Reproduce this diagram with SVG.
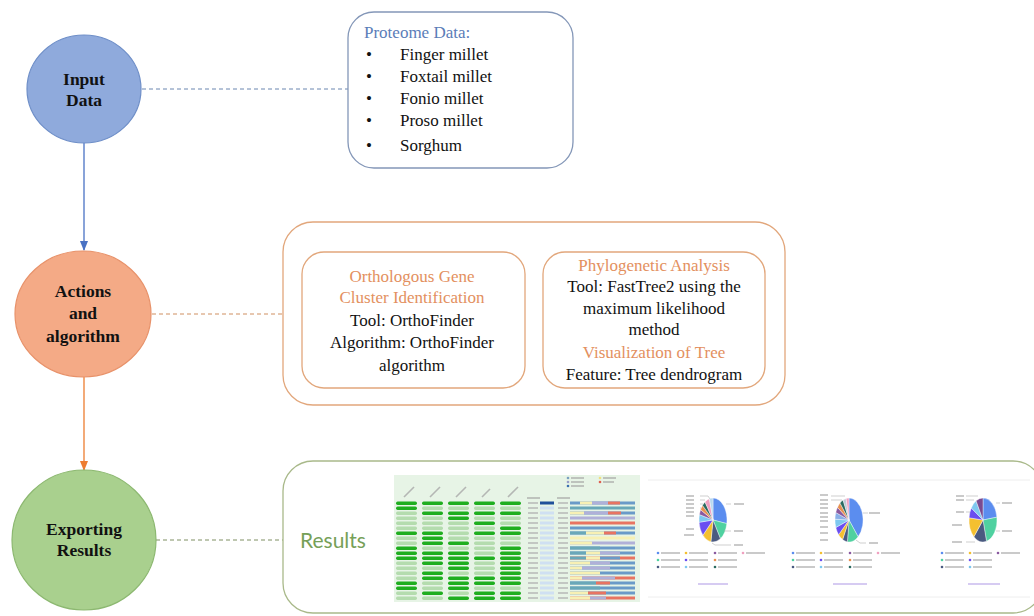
<svg xmlns="http://www.w3.org/2000/svg" width="1034" height="616" viewBox="0 0 1034 616">
<defs>
<style>
.node-t{font-family:"Liberation Serif",serif;font-weight:bold;font-size:17.5px;fill:#111;text-anchor:middle}
.body{font-family:"Liberation Serif",serif;font-size:17px;fill:#111}
.ctr{text-anchor:middle}
.blue-t{fill:#5b7db8}
.org-t{fill:#e39060}
.dk{fill:#1fae1f}
.lt{fill:#b4dcae}
.g{stroke:#a8a8a8;stroke-width:1.6;opacity:.8}
.lead{stroke:#b0b0b0;stroke-width:.6;fill:none}
</style>
<marker id="arrB" viewBox="0 0 10 10" refX="9" refY="5" markerWidth="8" markerHeight="8" orient="auto"><path d="M0,1 L10,5 L0,9 Z" fill="#4a72c4"/></marker>
<marker id="arrO" viewBox="0 0 10 10" refX="9" refY="5" markerWidth="8" markerHeight="8" orient="auto"><path d="M0,1 L10,5 L0,9 Z" fill="#ed7d31"/></marker>
</defs>
<rect width="1034" height="616" fill="#ffffff"/>

<g id="connectors">
<line x1="84" y1="143" x2="84" y2="250" stroke="#4a72c4" stroke-width="1.3" marker-end="url(#arrB)"/>
<line x1="84" y1="377" x2="84" y2="470" stroke="#ed7d31" stroke-width="1.3" marker-end="url(#arrO)"/>
<line x1="142" y1="89" x2="348" y2="89" stroke="#6b86b0" stroke-width="1" stroke-dasharray="4 3"/>
<line x1="152" y1="314" x2="283" y2="314" stroke="#cf8f60" stroke-width="1" stroke-dasharray="4 3"/>
<line x1="156" y1="540" x2="283" y2="540" stroke="#7f8f62" stroke-width="1" stroke-dasharray="4 3"/>
</g>

<g id="input-data">
<ellipse cx="84" cy="89" rx="57" ry="54" fill="#8faadc" stroke="#6f8fc8" stroke-width="1.2"/>
<text class="node-t" x="84" y="85">Input</text>
<text class="node-t" x="84" y="106">Data</text>
</g>

<g id="proteome-data">
<rect x="348" y="12" width="225" height="156" rx="26" fill="#fff" stroke="#8497b8" stroke-width="1.3"/>
<text class="body blue-t" x="364" y="38">Proteome Data:</text>
<g class="body">
<text x="366" y="60">•</text><text x="400" y="60">Finger millet</text>
<text x="366" y="82">•</text><text x="400" y="82">Foxtail millet</text>
<text x="366" y="104">•</text><text x="400" y="104">Fonio millet</text>
<text x="366" y="126">•</text><text x="400" y="126">Proso millet</text>
<text x="366" y="151">•</text><text x="400" y="151">Sorghum</text>
</g>
</g>

<g id="actions">
<ellipse cx="83" cy="314" rx="68" ry="63" fill="#f4aa86" stroke="#e8926a" stroke-width="1.2"/>
<text class="node-t" x="83" y="297" font-size="18">Actions</text>
<text class="node-t" x="83" y="319" font-size="18">and</text>
<text class="node-t" x="83" y="342" font-size="18">algorithm</text>
</g>

<g id="methods">
<rect x="283" y="222" width="502" height="183" rx="30" fill="#fff" stroke="#e2a77c" stroke-width="1.3"/>
</g>

<g id="orthologous">
<rect x="302" y="252" width="223" height="136" rx="22" fill="#fff" stroke="#e2a77c" stroke-width="1.3"/>
<text class="body ctr org-t" x="412" y="282">Orthologous Gene</text>
<text class="body ctr org-t" x="412" y="303">Cluster Identification</text>
<text class="body ctr" x="412" y="326">Tool: OrthoFinder</text>
<text class="body ctr" x="412" y="348">Algorithm:  OrthoFinder</text>
<text class="body ctr" x="412" y="371">algorithm</text>
</g>

<g id="phylogenetic">
<rect x="543" y="252" width="222" height="136" rx="22" fill="#fff" stroke="#e2a77c" stroke-width="1.3"/>
<text class="body ctr org-t" x="654" y="271">Phylogenetic Analysis</text>
<text class="body ctr" x="654" y="292">Tool: FastTree2 using  the</text>
<text class="body ctr" x="654" y="314">maximum  likelihood</text>
<text class="body ctr" x="654" y="335">method</text>
<text class="body ctr org-t" x="654" y="358">Visualization  of Tree</text>
<text class="body ctr" x="654" y="380">Feature: Tree dendrogram</text>
</g>

<g id="exporting">
<ellipse cx="84" cy="540" rx="72" ry="70" fill="#a9d08e" stroke="#8cb870" stroke-width="1.2"/>
<text class="node-t" x="84" y="535" font-size="18">Exporting</text>
<text class="node-t" x="84" y="556" font-size="18">Results</text>
</g>

<g id="results">
<rect x="283" y="461" width="760" height="152" rx="30" fill="#fff" stroke="#a9b98a" stroke-width="1.3"/>
<text x="300" y="548" font-family="Lato, 'Open Sans', sans-serif" font-size="21" fill="#76a058">Results</text>

<g id="heatmap">
<rect x="394" y="475" width="246" height="127" fill="#e7f4e6"/>
<g class="g" stroke-width="1.2">
<line x1="404" y1="497" x2="414" y2="487"/><line x1="430" y1="497" x2="440" y2="487"/><line x1="456" y1="497" x2="466" y2="487"/><line x1="482" y1="497" x2="490" y2="489"/><line x1="508" y1="497" x2="518" y2="487"/>
<line x1="527" y1="498" x2="540" y2="498"/><line x1="557" y1="498" x2="570" y2="498"/>
</g>
<g>
<circle cx="568" cy="478" r="1.3" fill="#7aa0c0"/><line x1="571" y1="478" x2="584" y2="478" class="g" stroke-width="1"/>
<circle cx="568" cy="482" r="1.3" fill="#9aa0c8"/><line x1="571" y1="482" x2="584" y2="482" class="g" stroke-width="1"/>
<circle cx="568" cy="486" r="1.3" fill="#3a70b0"/><line x1="571" y1="486" x2="584" y2="486" class="g" stroke-width="1"/>
<circle cx="600" cy="478" r="1.3" fill="#f0e080"/><line x1="603" y1="478" x2="616" y2="478" class="g" stroke-width="1"/>
<circle cx="600" cy="482" r="1.3" fill="#e06050"/><line x1="603" y1="482" x2="614" y2="482" class="g" stroke-width="1"/>
</g>
<g id="hm-rows">
<g transform="translate(0,501.5)">
<rect class="dk" x="396" width="21" height="3.5" rx="1.7"/><rect class="dk" x="422" width="21" height="3.5" rx="1.7"/><rect class="dk" x="448" width="21" height="3.5" rx="1.7"/><rect class="dk" x="474" width="21" height="3.5" rx="1.7"/><rect class="dk" x="500" width="21" height="3.5" rx="1.7"/>
</g>
<g transform="translate(0,506.5)">
<rect class="dk" x="396" width="21" height="3.5" rx="1.7"/><rect class="lt" x="422" width="21" height="3.5" rx="1.7"/><rect class="lt" x="448" width="21" height="3.5" rx="1.7"/><rect class="lt" x="474" width="21" height="3.5" rx="1.7"/><rect class="lt" x="500" width="21" height="3.5" rx="1.7"/>
</g>
<g transform="translate(0,511.5)">
<rect class="lt" x="396" width="21" height="3.5" rx="1.7"/><rect class="dk" x="422" width="21" height="3.5" rx="1.7"/><rect class="dk" x="448" width="21" height="3.5" rx="1.7"/><rect class="dk" x="474" width="21" height="3.5" rx="1.7"/><rect class="dk" x="500" width="21" height="3.5" rx="1.7"/>
</g>
<g transform="translate(0,516.5)">
<rect class="lt" x="396" width="21" height="3.5" rx="1.7"/><rect class="lt" x="422" width="21" height="3.5" rx="1.7"/><rect class="dk" x="448" width="21" height="3.5" rx="1.7"/><rect class="lt" x="474" width="21" height="3.5" rx="1.7"/><rect class="lt" x="500" width="21" height="3.5" rx="1.7"/>
</g>
<g transform="translate(0,521.5)">
<rect class="lt" x="396" width="21" height="3.5" rx="1.7"/><rect class="lt" x="422" width="21" height="3.5" rx="1.7"/><rect class="lt" x="448" width="21" height="3.5" rx="1.7"/><rect class="dk" x="474" width="21" height="3.5" rx="1.7"/><rect class="lt" x="500" width="21" height="3.5" rx="1.7"/>
</g>
<g transform="translate(0,526.5)">
<rect class="lt" x="396" width="21" height="3.5" rx="1.7"/><rect class="lt" x="422" width="21" height="3.5" rx="1.7"/><rect class="lt" x="448" width="21" height="3.5" rx="1.7"/><rect class="lt" x="474" width="21" height="3.5" rx="1.7"/><rect class="dk" x="500" width="21" height="3.5" rx="1.7"/>
</g>
<g transform="translate(0,531.5)">
<rect class="dk" x="396" width="21" height="3.5" rx="1.7"/><rect class="dk" x="422" width="21" height="3.5" rx="1.7"/><rect class="lt" x="448" width="21" height="3.5" rx="1.7"/><rect class="dk" x="474" width="21" height="3.5" rx="1.7"/><rect class="dk" x="500" width="21" height="3.5" rx="1.7"/>
</g>
<g transform="translate(0,536.5)">
<rect class="lt" x="396" width="21" height="3.5" rx="1.7"/><rect class="dk" x="422" width="21" height="3.5" rx="1.7"/><rect class="lt" x="448" width="21" height="3.5" rx="1.7"/><rect class="lt" x="474" width="21" height="3.5" rx="1.7"/><rect class="lt" x="500" width="21" height="3.5" rx="1.7"/>
</g>
<g transform="translate(0,541.5)">
<rect class="lt" x="396" width="21" height="3.5" rx="1.7"/><rect class="dk" x="422" width="21" height="3.5" rx="1.7"/><rect class="dk" x="448" width="21" height="3.5" rx="1.7"/><rect class="lt" x="474" width="21" height="3.5" rx="1.7"/><rect class="lt" x="500" width="21" height="3.5" rx="1.7"/>
</g>
<g transform="translate(0,546.5)">
<rect class="dk" x="396" width="21" height="3.5" rx="1.7"/><rect class="lt" x="422" width="21" height="3.5" rx="1.7"/><rect class="lt" x="448" width="21" height="3.5" rx="1.7"/><rect class="lt" x="474" width="21" height="3.5" rx="1.7"/><rect class="dk" x="500" width="21" height="3.5" rx="1.7"/>
</g>
<g transform="translate(0,551.5)">
<rect class="dk" x="396" width="21" height="3.5" rx="1.7"/><rect class="dk" x="422" width="21" height="3.5" rx="1.7"/><rect class="dk" x="448" width="21" height="3.5" rx="1.7"/><rect class="lt" x="474" width="21" height="3.5" rx="1.7"/><rect class="dk" x="500" width="21" height="3.5" rx="1.7"/>
</g>
<g transform="translate(0,556.5)">
<rect class="dk" x="396" width="21" height="3.5" rx="1.7"/><rect class="dk" x="422" width="21" height="3.5" rx="1.7"/><rect class="dk" x="448" width="21" height="3.5" rx="1.7"/><rect class="dk" x="474" width="21" height="3.5" rx="1.7"/><rect class="dk" x="500" width="21" height="3.5" rx="1.7"/>
</g>
<g transform="translate(0,561.5)">
<rect class="lt" x="396" width="21" height="3.5" rx="1.7"/><rect class="dk" x="422" width="21" height="3.5" rx="1.7"/><rect class="dk" x="448" width="21" height="3.5" rx="1.7"/><rect class="lt" x="474" width="21" height="3.5" rx="1.7"/><rect class="dk" x="500" width="21" height="3.5" rx="1.7"/>
</g>
<g transform="translate(0,566.5)">
<rect class="lt" x="396" width="21" height="3.5" rx="1.7"/><rect class="lt" x="422" width="21" height="3.5" rx="1.7"/><rect class="dk" x="448" width="21" height="3.5" rx="1.7"/><rect class="lt" x="474" width="21" height="3.5" rx="1.7"/><rect class="dk" x="500" width="21" height="3.5" rx="1.7"/>
</g>
<g transform="translate(0,571.5)">
<rect class="lt" x="396" width="21" height="3.5" rx="1.7"/><rect class="dk" x="422" width="21" height="3.5" rx="1.7"/><rect class="lt" x="448" width="21" height="3.5" rx="1.7"/><rect class="lt" x="474" width="21" height="3.5" rx="1.7"/><rect class="dk" x="500" width="21" height="3.5" rx="1.7"/>
</g>
<g transform="translate(0,576.5)">
<rect class="lt" x="396" width="21" height="3.5" rx="1.7"/><rect class="dk" x="422" width="21" height="3.5" rx="1.7"/><rect class="dk" x="448" width="21" height="3.5" rx="1.7"/><rect class="dk" x="474" width="21" height="3.5" rx="1.7"/><rect class="dk" x="500" width="21" height="3.5" rx="1.7"/>
</g>
<g transform="translate(0,581.5)">
<rect class="dk" x="396" width="21" height="3.5" rx="1.7"/><rect class="lt" x="422" width="21" height="3.5" rx="1.7"/><rect class="dk" x="448" width="21" height="3.5" rx="1.7"/><rect class="dk" x="474" width="21" height="3.5" rx="1.7"/><rect class="dk" x="500" width="21" height="3.5" rx="1.7"/>
</g>
<g transform="translate(0,586.5)">
<rect class="dk" x="396" width="21" height="3.5" rx="1.7"/><rect class="lt" x="422" width="21" height="3.5" rx="1.7"/><rect class="dk" x="448" width="21" height="3.5" rx="1.7"/><rect class="lt" x="474" width="21" height="3.5" rx="1.7"/><rect class="lt" x="500" width="21" height="3.5" rx="1.7"/>
</g>
<g transform="translate(0,591.5)">
<rect class="lt" x="396" width="21" height="3.5" rx="1.7"/><rect class="dk" x="422" width="21" height="3.5" rx="1.7"/><rect class="lt" x="448" width="21" height="3.5" rx="1.7"/><rect class="dk" x="474" width="21" height="3.5" rx="1.7"/><rect class="dk" x="500" width="21" height="3.5" rx="1.7"/>
</g>
<g transform="translate(0,596.5)">
<rect class="lt" x="396" width="21" height="3.5" rx="1.7"/><rect class="lt" x="422" width="21" height="3.5" rx="1.7"/><rect class="dk" x="448" width="21" height="3.5" rx="1.7"/><rect class="dk" x="474" width="21" height="3.5" rx="1.7"/><rect class="dk" x="500" width="21" height="3.5" rx="1.7"/>
</g>
</g>
<g stroke="#b8b8b8" stroke-width="1.4">
<path d="M528 503H538M528 508H538M528 513H538M528 518H538M528 523H538M528 528H538M528 533H538M528 538H538M528 543H538M528 548H538M528 553H538M528 558H538M528 563H538M528 568H538M528 573H538M528 578H538M528 583H538M528 588H538M528 593H538M528 598H538"/>
<path d="M558 503H568M558 508H568M558 513H568M558 518H568M558 523H568M558 528H568M558 533H568M558 538H568M558 543H568M558 548H568M558 553H568M558 558H568M558 563H568M558 568H568M558 573H568M558 578H568M558 583H568M558 588H568M558 593H568M558 598H568"/>
</g>
<rect x="540" y="501.5" width="14" height="3" fill="#1e4f9a"/>
<g fill="#cfe0f2">
<rect x="540" y="506.5" width="14" height="3"/><rect x="540" y="511.5" width="14" height="3"/><rect x="540" y="516.5" width="14" height="3"/><rect x="540" y="521.5" width="14" height="3"/><rect x="540" y="526.5" width="14" height="3"/><rect x="540" y="531.5" width="14" height="3"/><rect x="540" y="536.5" width="14" height="3"/><rect x="540" y="541.5" width="14" height="3"/><rect x="540" y="546.5" width="14" height="3"/><rect x="540" y="551.5" width="14" height="3"/><rect x="540" y="556.5" width="14" height="3"/><rect x="540" y="561.5" width="14" height="3"/><rect x="540" y="566.5" width="14" height="3"/><rect x="540" y="571.5" width="14" height="3"/><rect x="540" y="576.5" width="14" height="3"/><rect x="540" y="581.5" width="14" height="3"/><rect x="540" y="586.5" width="14" height="3"/><rect x="540" y="591.5" width="14" height="3"/><rect x="540" y="596.5" width="14" height="3"/>
</g>
<g>
<rect x="570" y="501.5" width="65" height="3" fill="#6a9ac8"/><rect x="580" y="501.5" width="12" height="3" fill="#f7f0b4"/><rect x="592" y="501.5" width="16" height="3" fill="#b0b0d8"/><rect x="608" y="501.5" width="12" height="3" fill="#e87462"/>
<rect x="570" y="506.5" width="65" height="3" fill="#6aa8b8"/>
<rect x="570" y="511.5" width="65" height="3" fill="#6a9ac8"/><rect x="570" y="511.5" width="14" height="3" fill="#f7f0b4"/><rect x="584" y="511.5" width="24" height="3" fill="#b0b0d8"/><rect x="608" y="511.5" width="13" height="3" fill="#e87462"/>
<rect x="570" y="516.5" width="65" height="3" fill="#b0b0d8"/>
<rect x="570" y="521.5" width="65" height="3" fill="#e87462"/>
<rect x="570" y="526.5" width="65" height="3" fill="#6a9ac8"/>
<rect x="570" y="531.5" width="65" height="3" fill="#6a9ac8"/><rect x="570" y="531.5" width="16" height="3" fill="#6aa8b8"/><rect x="586" y="531.5" width="18" height="3" fill="#f7f0b4"/><rect x="604" y="531.5" width="12" height="3" fill="#e87462"/>
<rect x="570" y="536.5" width="65" height="3" fill="#f7f0b4"/>
<rect x="570" y="541.5" width="65" height="3" fill="#b0b0d8"/><rect x="570" y="541.5" width="22" height="3" fill="#f7f0b4"/>
<rect x="570" y="546.5" width="65" height="3" fill="#6a9ac8"/><rect x="570" y="546.5" width="30" height="3" fill="#6aa8b8"/>
<rect x="570" y="551.5" width="65" height="3" fill="#6a9ac8"/><rect x="570" y="551.5" width="16" height="3" fill="#6aa8b8"/><rect x="586" y="551.5" width="14" height="3" fill="#f7f0b4"/><rect x="600" y="551.5" width="20" height="3" fill="#b0b0d8"/>
<rect x="570" y="556.5" width="65" height="3" fill="#e87462"/><rect x="570" y="556.5" width="16" height="3" fill="#6aa8b8"/><rect x="586" y="556.5" width="14" height="3" fill="#f7f0b4"/><rect x="600" y="556.5" width="20" height="3" fill="#6a9ac8"/>
<rect x="570" y="561.5" width="65" height="3" fill="#6a9ac8"/><rect x="570" y="561.5" width="20" height="3" fill="#f7f0b4"/><rect x="590" y="561.5" width="20" height="3" fill="#b0b0d8"/>
<rect x="570" y="566.5" width="65" height="3" fill="#6a9ac8"/><rect x="570" y="566.5" width="12" height="3" fill="#f7f0b4"/><rect x="582" y="566.5" width="28" height="3" fill="#b0b0d8"/>
<rect x="570" y="571.5" width="65" height="3" fill="#6a9ac8"/><rect x="570" y="571.5" width="30" height="3" fill="#f7f0b4"/>
<rect x="570" y="576.5" width="65" height="3" fill="#e87462"/><rect x="570" y="576.5" width="12" height="3" fill="#f7f0b4"/><rect x="582" y="576.5" width="33" height="3" fill="#b0b0d8"/>
<rect x="570" y="581.5" width="65" height="3" fill="#6a9ac8"/><rect x="570" y="581.5" width="26" height="3" fill="#6aa8b8"/><rect x="596" y="581.5" width="14" height="3" fill="#e87462"/>
<rect x="570" y="586.5" width="65" height="3" fill="#6a9ac8"/><rect x="570" y="586.5" width="30" height="3" fill="#6aa8b8"/>
<rect x="570" y="591.5" width="65" height="3" fill="#6a9ac8"/><rect x="570" y="591.5" width="18" height="3" fill="#f7f0b4"/><rect x="588" y="591.5" width="18" height="3" fill="#e87462"/>
<rect x="570" y="596.5" width="65" height="3" fill="#e87462"/><rect x="570" y="596.5" width="20" height="3" fill="#f7f0b4"/><rect x="590" y="596.5" width="16" height="3" fill="#b0b0d8"/>
</g>
</g>

<g id="pies">
<line x1="648" y1="480" x2="1030" y2="480" stroke="#eeeeee" stroke-width="1"/>
<line x1="648" y1="597" x2="1030" y2="597" stroke="#eeeeee" stroke-width="1"/>
<g stroke="#fff" stroke-width=".4">
<path d="M713 520 L713 498 A14 22 0 0 1 726.8 523.6 Z" fill="#5b8def"/>
<path d="M713 520 L726.8 523.6 A14 22 0 0 1 720.4 538.7 Z" fill="#4fd1a0"/>
<path d="M713 520 L720.4 538.7 A14 22 0 0 1 710.9 541.8 Z" fill="#4a5a80"/>
<path d="M713 520 L710.9 541.8 A14 22 0 0 1 702.9 535.2 Z" fill="#f4c030"/>
<path d="M713 520 L702.9 535.2 A14 22 0 0 1 699.1 522.3 Z" fill="#6a4ef0"/>
<path d="M713 520 L699.1 522.3 A14 22 0 0 1 699.4 514.6 Z" fill="#7ec8f0"/>
<path d="M713 520 L699.4 514.6 A14 22 0 0 1 700.6 509.7 Z" fill="#8a5aa0"/>
<path d="M713 520 L700.6 509.7 A14 22 0 0 1 702.5 505.4 Z" fill="#e89050"/>
<path d="M713 520 L702.5 505.4 A14 22 0 0 1 705 501.9 Z" fill="#2a6a60"/>
<path d="M713 520 L705 501.9 A14 22 0 0 1 709.4 498.7 Z" fill="#f0a0c0"/>
<path d="M713 520 L709.4 498.7 A14 22 0 0 1 713 498 Z" fill="#b8d8f0"/>
</g>
<g class="lead">
<path d="M700 496H708L710 499"/><path d="M700 500H705"/><path d="M700 504H703"/><path d="M700 508H701"/><path d="M726 504H731"/><path d="M724 531H731"/><path d="M712 543L715 545H731"/>
</g>
<g class="g" stroke-width="1.2">
<path d="M686 496H694M686 500H694M686 504H694M686 508H694M686 512H694M686 516H694M686 529H694M684 535H694"/>
<path d="M734 504H744M734 531H743M734 545H743"/>
</g>
<g stroke="#fff" stroke-width=".4">
<path d="M849 520 L849 498 A14 22 0 0 1 858.1 536.8 Z" fill="#5b8def"/>
<path d="M849 520 L858.1 536.8 A14 22 0 0 1 847.4 541.9 Z" fill="#4fd1a0"/>
<path d="M849 520 L847.4 541.9 A14 22 0 0 1 842.6 539.6 Z" fill="#4a5a80"/>
<path d="M849 520 L842.6 539.6 A14 22 0 0 1 838.6 534.7 Z" fill="#f4c030"/>
<path d="M849 520 L838.6 534.7 A14 22 0 0 1 835.8 527.5 Z" fill="#6a4ef0"/>
<path d="M849 520 L835.8 527.5 A14 22 0 0 1 835 519.2 Z" fill="#7ec8f0"/>
<path d="M849 520 L835 519.2 A14 22 0 0 1 835.8 512.5 Z" fill="#8ab0e8"/>
<path d="M849 520 L835.8 512.5 A14 22 0 0 1 837.5 507.4 Z" fill="#8a5aa0"/>
<path d="M849 520 L837.5 507.4 A14 22 0 0 1 840 503.1 Z" fill="#e89050"/>
<path d="M849 520 L840 503.1 A14 22 0 0 1 843.1 500.1 Z" fill="#2a6a60"/>
<path d="M849 520 L843.1 500.1 A14 22 0 0 1 846.1 498.5 Z" fill="#c0c8d8"/>
<path d="M849 520 L846.1 498.5 A14 22 0 0 1 849 498 Z" fill="#f0a0c0"/>
</g>
<g class="lead"><path d="M831 496H845"/><path d="M831 500H842"/><path d="M863 513H868"/><path d="M856 540L860 543H866"/></g>
<g class="g" stroke-width="1.2">
<path d="M820 495H828M820 500H828M820 504H828M820 508H828M820 513H828M820 517H828M820 521H828M820 527H828M820 533H828M820 540H828"/>
<path d="M869 513H880M869 543H878"/>
</g>
<g stroke="#fff" stroke-width=".4">
<path d="M983 520 L983 498 A14 22 0 0 1 996.9 517.2 Z" fill="#5b8def"/>
<path d="M983 520 L996.9 517.2 A14 22 0 0 1 986.5 541.3 Z" fill="#4fd1a0"/>
<path d="M983 520 L986.5 541.3 A14 22 0 0 1 973.9 536.7 Z" fill="#4a5a80"/>
<path d="M983 520 L973.9 536.7 A14 22 0 0 1 969.1 517.8 Z" fill="#f4c030"/>
<path d="M983 520 L969.1 517.8 A14 22 0 0 1 971.3 508 Z" fill="#6a4ef0"/>
<path d="M983 520 L971.3 508 A14 22 0 0 1 976.1 500.8 Z" fill="#7ec8f0"/>
<path d="M983 520 L976.1 500.8 A14 22 0 0 1 983 498 Z" fill="#7a4a90"/>
</g>
<g class="lead"><path d="M966 496H978"/><path d="M966 500H974"/><path d="M966 512H970"/><path d="M996 503H1000"/><path d="M996 531H1000"/><path d="M966 542H975"/></g>
<g class="g" stroke-width="1.2">
<path d="M956 496H964M956 500H964M956 512H964M952 525H962M952 542H962"/>
<path d="M1002 503H1012M1002 531H1012"/>
</g>
<g id="legend-dots">
<g fill="#5b8def"><circle cx="658" cy="553" r="1.3"/><circle cx="793" cy="553" r="1.3"/><circle cx="942" cy="553" r="1.3"/></g>
<g fill="#f4c030"><circle cx="686" cy="553" r="1.3"/><circle cx="821" cy="553" r="1.3"/><circle cx="970" cy="553" r="1.3"/></g>
<g fill="#8a5aa0"><circle cx="715" cy="553" r="1.3"/><circle cx="850" cy="553" r="1.3"/><circle cx="998" cy="553" r="1.3"/></g>
<g fill="#f0a0c0"><circle cx="743" cy="553" r="1.3"/><circle cx="878" cy="553" r="1.3"/></g>
<g fill="#4fd1a0"><circle cx="658" cy="560" r="1.3"/><circle cx="793" cy="560" r="1.3"/><circle cx="942" cy="560" r="1.3"/></g>
<g fill="#6a4ef0"><circle cx="686" cy="560" r="1.3"/><circle cx="821" cy="560" r="1.3"/><circle cx="970" cy="560" r="1.3"/></g>
<g fill="#e89050"><circle cx="715" cy="560" r="1.3"/><circle cx="850" cy="560" r="1.3"/></g>
<g fill="#4a5a80"><circle cx="658" cy="567" r="1.3"/><circle cx="793" cy="567" r="1.3"/><circle cx="942" cy="567" r="1.3"/></g>
<g fill="#7ec8f0"><circle cx="686" cy="567" r="1.3"/><circle cx="821" cy="567" r="1.3"/><circle cx="970" cy="567" r="1.3"/></g>
<g fill="#2a6a60"><circle cx="715" cy="567" r="1.3"/><circle cx="850" cy="567" r="1.3"/></g>
</g>
<g class="g" stroke-width="1.1">
<path d="M661 553H680M689 553H708M718 553H737M746 553H765M661 560H680M689 560H708M718 560H737M661 567H680M689 567H708M718 567H737"/>
<path d="M796 553H815M824 553H843M853 553H872M881 553H900M796 560H815M824 560H843M853 560H872M796 567H815M824 567H843M853 567H872"/>
<path d="M945 553H964M973 553H992M1001 553H1020M945 560H964M973 560H992M945 567H964M973 567H992"/>
</g>
<g stroke="#9a80e0" stroke-width="1.2" opacity=".8">
<path d="M698 584H728M833 584H867M968 584H1000"/>
</g>
</g>
</g>
</svg>
